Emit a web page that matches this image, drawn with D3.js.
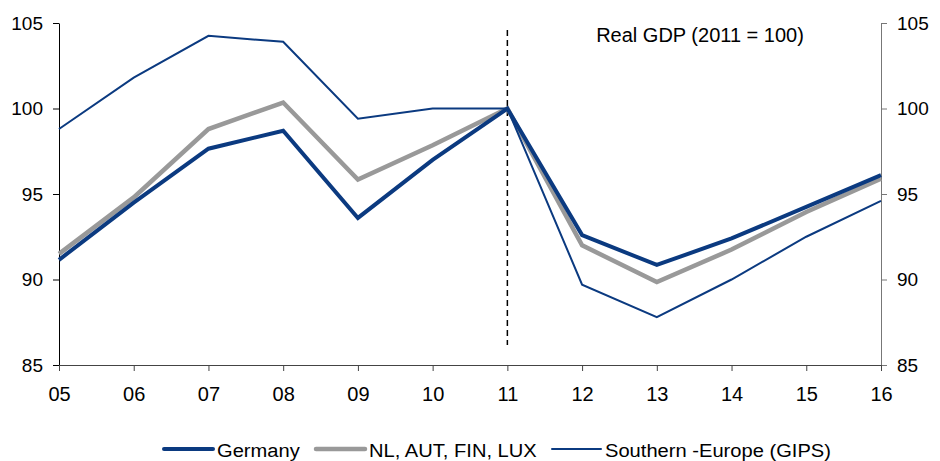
<!DOCTYPE html>
<html>
<head>
<meta charset="utf-8">
<script src="https://cdn.jsdelivr.net/npm/d3@7"></script>
<style>
  body { margin: 0; background: #fff; }
  svg text { font-family: "Liberation Sans", Arial, sans-serif; }
</style>
</head>
<body>
<svg id="chart" width="940" height="461"></svg>
<script>
// data
var years = ["05", "06", "07", "08", "09", "10", "11", "12", "13", "14", "15", "16"];
var germany = [91.15, 94.5, 97.65, 98.7, 93.6, 97.0, 100, 92.6, 90.85, 92.4, 94.25, 96.1];
var nlAutFinLux = [91.5, 94.8, 98.8, 100.35, 95.85, 97.85, 100, 92.0, 89.85, 91.75, 93.95, 95.9];
var southern = [98.8, 101.8, 104.25, 103.9, 99.4, 100, 100, 89.7, 87.8, 90.0, 92.5, 94.6];
var yTicks = [85, 90, 95, 100, 105];

var series = [
    { name: "NL, AUT, FIN, LUX", values: nlAutFinLux, color: "#999999", width: 4.5 },
    { name: "Germany", values: germany, color: "#0b3a80", width: 4 },
    { name: "Southern -Europe (GIPS)", values: southern, color: "#0b3a80", width: 2 }
];
var legendOrder = [1, 0, 2];

var svg = d3.select("#chart");
var plotLeft = 59, plotRight = 881, plotTop = 23, plotBottom = 365;

var x = d3.scalePoint()
    .domain(years)
    .range([plotLeft, plotRight]);

var y = d3.scaleLinear()
    .domain([85, 105])
    .range([plotBottom, plotTop]);

// left axis
var yLeft = svg.append("g")
    .attr("transform", "translate(" + plotLeft + ",0)")
    .call(d3.axisLeft(y).tickValues(yTicks).tickSize(6).tickPadding(10).tickSizeOuter(0));
yLeft.select(".domain").attr("stroke", "#000");
yLeft.selectAll(".tick line").attr("stroke", "#000");

// right axis
var yRight = svg.append("g")
    .attr("transform", "translate(" + plotRight + ",0)")
    .call(d3.axisRight(y).tickValues(yTicks).tickSize(6).tickPadding(10).tickSizeOuter(0));
yRight.select(".domain").attr("stroke", "#777");
yRight.selectAll(".tick line").attr("stroke", "#777");

svg.selectAll(".tick text")
    .attr("fill", "#000")
    .style("font-size", "19px");

// bottom axis
var xAxis = svg.append("g")
    .attr("transform", "translate(0," + plotBottom + ")")
    .call(d3.axisBottom(x).tickSize(6).tickPadding(16).tickSizeOuter(0));
xAxis.select(".domain").attr("stroke", "#444");
xAxis.selectAll(".tick line").attr("stroke", "#444");
xAxis.selectAll(".tick text")
    .attr("fill", "#000")
    .style("font-size", "20px");

// dashed marker at 2011
svg.append("line")
    .attr("x1", x("11")).attr("x2", x("11"))
    .attr("y1", 30).attr("y2", 345)
    .attr("stroke", "#000")
    .attr("stroke-width", 1.5)
    .attr("stroke-dasharray", "6,4");

var line = d3.line()
    .x(function(d, i) { return x(years[i]); })
    .y(function(d) { return y(d); });

svg.selectAll(".series")
    .data(series)
    .enter()
    .append("path")
    .attr("class", "series")
    .attr("d", function(d) { return line(d.values); })
    .attr("fill", "none")
    .attr("stroke", function(d) { return d.color; })
    .attr("stroke-width", function(d) { return d.width; })
    .attr("stroke-linejoin", "miter");

svg.append("text")
    .attr("x", 700)
    .attr("y", 42)
    .attr("text-anchor", "middle")
    .style("font-size", "20px")
    .text("Real GDP (2011 = 100)");

// legend
var legendX = [163, 315, 551];
var lg = svg.selectAll(".legend")
    .data(legendOrder.map(function(i) { return series[i]; }))
    .enter()
    .append("g")
    .attr("class", "legend")
    .attr("transform", function(d, i) { return "translate(" + legendX[i] + ",449)"; });

lg.append("line")
    .attr("x1", 1).attr("x2", 50)
    .attr("stroke", function(d) { return d.color; })
    .attr("stroke-width", function(d) { return d.width; })
    .attr("stroke-linecap", "round");

lg.append("text")
    .attr("transform", "translate(54,8) scale(1.06,1)")
    .style("font-size", "19px")
    .text(function(d) { return d.name; });
</script>
</body>
</html>
